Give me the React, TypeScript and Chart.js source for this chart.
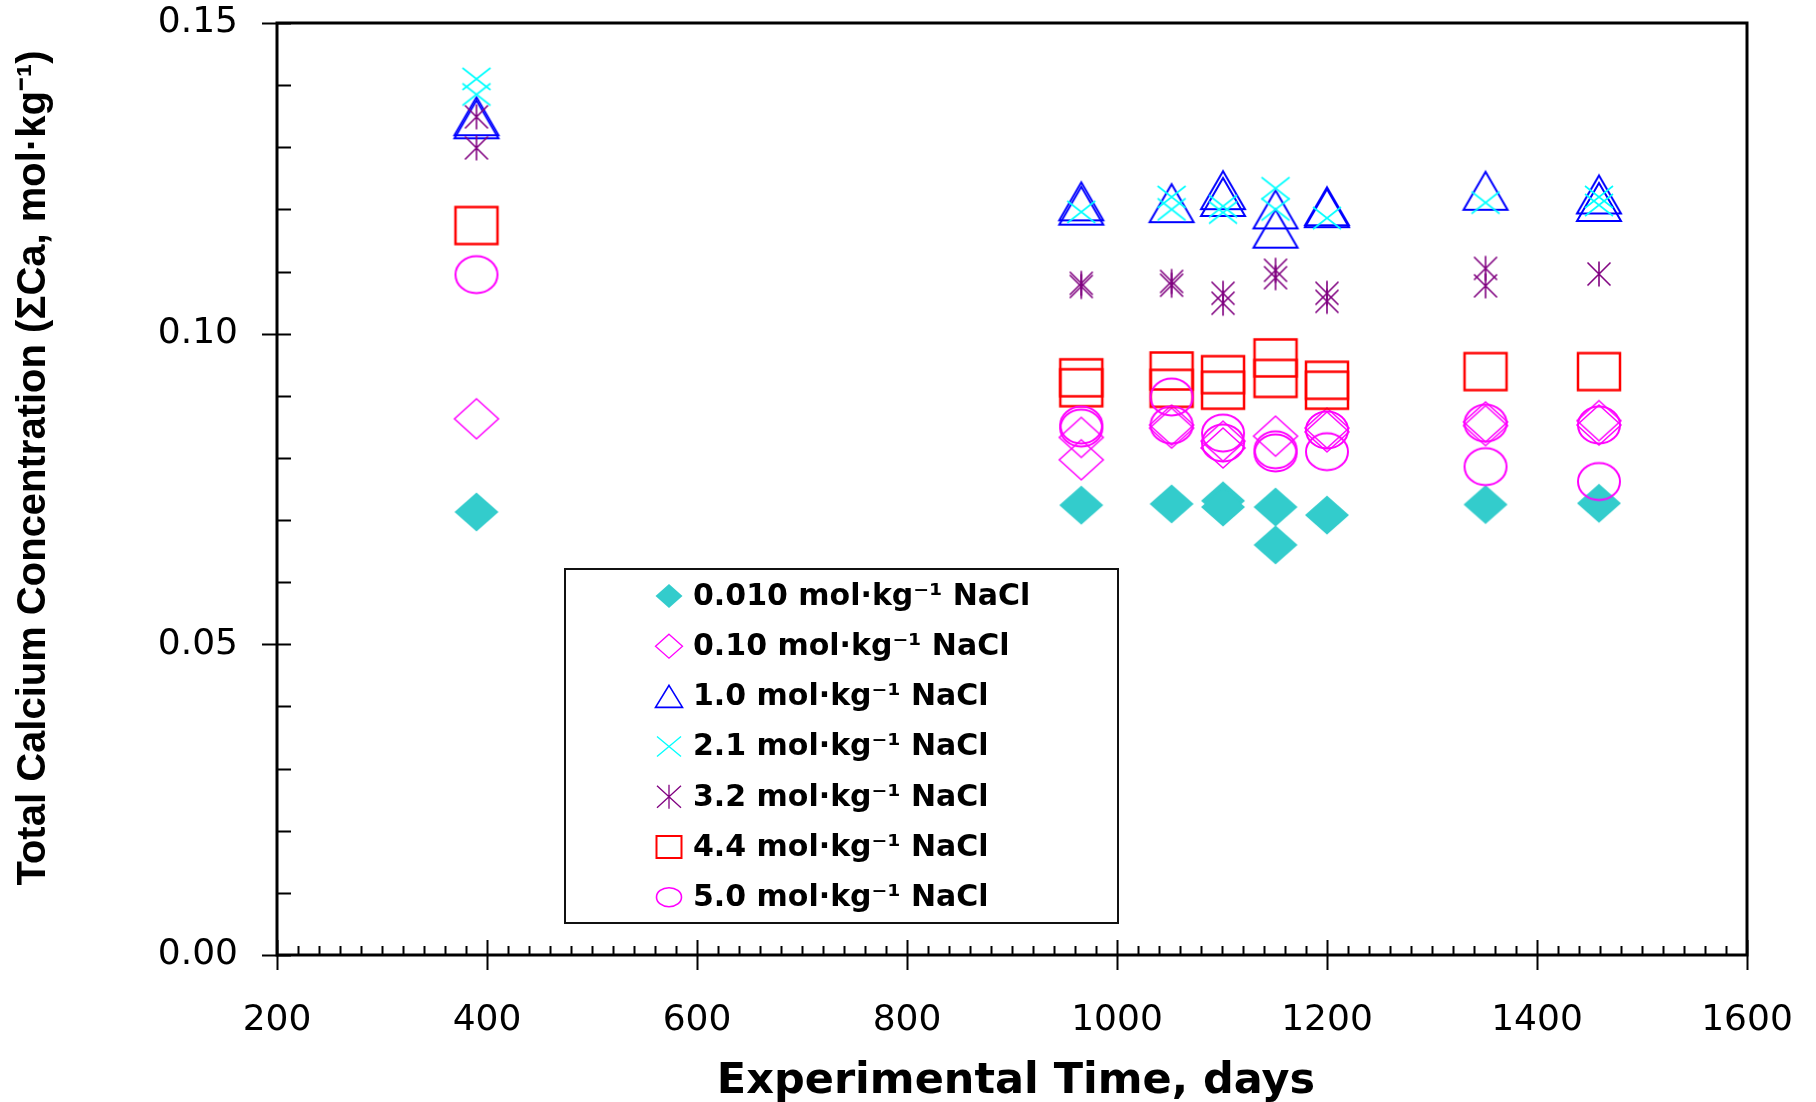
import React, { useEffect, useRef } from 'react';
import { Chart, registerables } from 'chart.js';

Chart.register(...registerables);

// ---------- data ----------
const seriesLabels = [
  '0.010 mol·kg⁻¹ NaCl',
  '0.10 mol·kg⁻¹ NaCl',
  '1.0 mol·kg⁻¹ NaCl',
  '2.1 mol·kg⁻¹ NaCl',
  '3.2 mol·kg⁻¹ NaCl',
  '4.4 mol·kg⁻¹ NaCl',
  '5.0 mol·kg⁻¹ NaCl',
];

const days0010 = [390, 966, 1052, 1101, 1101, 1151, 1151, 1200, 1351, 1459];
const ca0010 = [0.0713, 0.0724, 0.0726, 0.0731, 0.0721, 0.0721, 0.066, 0.0708, 0.0725, 0.0727];

const days010 = [390, 966, 966, 1052, 1052, 1101, 1101, 1151, 1200, 1200, 1351, 1351, 1459, 1459];
const ca010 = [0.0863, 0.0833, 0.0797, 0.0853, 0.0848, 0.0827, 0.0816, 0.0835, 0.0848, 0.0842, 0.0858, 0.0852, 0.086, 0.0853];

const days10 = [390, 390, 966, 966, 1052, 1101, 1101, 1151, 1151, 1200, 1200, 1351, 1459, 1459];
const ca10 = [0.135, 0.1345, 0.1213, 0.1206, 0.121, 0.1231, 0.122, 0.12, 0.1169, 0.1205, 0.1202, 0.123, 0.1224, 0.1212];

const days21 = [390, 390, 966, 1052, 1052, 1101, 1101, 1151, 1151, 1200, 1351, 1459, 1459];
const ca21 = [0.141, 0.1385, 0.1196, 0.122, 0.12, 0.1205, 0.1195, 0.1234, 0.12, 0.1186, 0.1211, 0.122, 0.1207];

const days32 = [390, 390, 966, 966, 1052, 1052, 1101, 1101, 1151, 1151, 1200, 1200, 1351, 1351, 1459];
const ca32 = [0.1349, 0.1299, 0.1081, 0.1076, 0.1084, 0.1078, 0.1065, 0.1049, 0.1102, 0.109, 0.1065, 0.1052, 0.1105, 0.1077, 0.1096];

const days44 = [390, 966, 966, 1052, 1052, 1101, 1101, 1151, 1151, 1200, 1200, 1351, 1459];
const ca44 = [0.1174, 0.0929, 0.0913, 0.094, 0.0912, 0.0934, 0.0909, 0.0961, 0.0928, 0.0925, 0.0909, 0.0939, 0.0939];

const days50 = [390, 966, 966, 1052, 1052, 1101, 1101, 1151, 1151, 1200, 1200, 1351, 1351, 1459, 1459];
const ca50 = [0.1095, 0.0853, 0.0848, 0.0898, 0.0853, 0.084, 0.0824, 0.0813, 0.0808, 0.0845, 0.081, 0.0856, 0.0786, 0.0853, 0.0762];

const seriesDays = [days0010, days010, days10, days21, days32, days44, days50];
const seriesValues = [ca0010, ca010, ca10, ca21, ca32, ca44, ca50];

const xMin = 200;
const xMax = 1600;
const xMajorStep = 200;
const xMinorStep = 20;
const yMin = 0;
const yMax = 0.15;
const yMajorStep = 0.05;
const yMinorStep = 0.01;

const xTitle = 'Experimental Time, days';
const yTitle = 'Total Calcium Concentration (ΣCa, mol·kg⁻¹)';

// ---------- styles ----------
type Kind = 'fdiamond' | 'odiamond' | 'triangle' | 'cross' | 'asterisk' | 'square' | 'circle';
interface MarkerSpec { kind: Kind; color: string; hw: number; hh: number; lw: number; lhw: number; lhh: number; llw: number }

const markerSpecs: MarkerSpec[] = [
  { kind: 'fdiamond', color: '#33CCCC', hw: 22, hh: 19.5, lw: 0, lhw: 13.5, lhh: 12, llw: 0 },
  { kind: 'odiamond', color: '#FF00FF', hw: 22, hh: 20, lw: 1.5, lhw: 13.5, lhh: 12, llw: 1.3 },
  { kind: 'triangle', color: '#0000FF', hw: 22, hh: 19, lw: 2, lhw: 13.5, lhh: 11, llw: 1.6 },
  { kind: 'cross', color: '#00FFFF', hw: 14, hh: 11, lw: 1.6, lhw: 12, lhh: 10, llw: 1.3 },
  { kind: 'asterisk', color: '#800080', hw: 11.5, hh: 11.5, lw: 1.6, lhw: 12, lhh: 11, llw: 1.3 },
  { kind: 'square', color: '#FF0000', hw: 21, hh: 18.5, lw: 2.5, lhw: 12.5, lhh: 11, llw: 2 },
  { kind: 'circle', color: '#FF00FF', hw: 21, hh: 18.5, lw: 2, lhw: 12.5, lhh: 9.5, llw: 1.6 },
];

function drawMarker(ctx: CanvasRenderingContext2D, kind: Kind, cx: number, cy: number, hw: number, hh: number, color: string, lw: number) {
  ctx.save();
  ctx.strokeStyle = color;
  ctx.fillStyle = color;
  ctx.lineWidth = lw;
  ctx.lineJoin = 'miter';
  ctx.beginPath();
  switch (kind) {
    case 'fdiamond':
    case 'odiamond':
      ctx.moveTo(cx, cy - hh);
      ctx.lineTo(cx + hw, cy);
      ctx.lineTo(cx, cy + hh);
      ctx.lineTo(cx - hw, cy);
      ctx.closePath();
      if (kind === 'fdiamond') ctx.fill();
      else ctx.stroke();
      break;
    case 'triangle':
      ctx.moveTo(cx, cy - hh);
      ctx.lineTo(cx + hw, cy + hh);
      ctx.lineTo(cx - hw, cy + hh);
      ctx.closePath();
      ctx.stroke();
      break;
    case 'cross':
    case 'asterisk':
      ctx.moveTo(cx - hw, cy - hh);
      ctx.lineTo(cx + hw, cy + hh);
      ctx.moveTo(cx + hw, cy - hh);
      ctx.lineTo(cx - hw, cy + hh);
      if (kind === 'asterisk') {
        ctx.moveTo(cx, cy - hh - 1);
        ctx.lineTo(cx, cy + hh + 1);
      }
      ctx.stroke();
      break;
    case 'square':
      ctx.rect(cx - hw, cy - hh, 2 * hw, 2 * hh);
      ctx.stroke();
      break;
    case 'circle':
      ctx.ellipse(cx, cy, hw, hh, 0, 0, Math.PI * 2);
      ctx.stroke();
      break;
  }
  ctx.restore();
}

function makeMarkerCanvas(spec: MarkerSpec): HTMLCanvasElement {
  const c = document.createElement('canvas');
  const w = Math.ceil(2 * spec.hw + spec.lw + 4);
  const h = Math.ceil(2 * spec.hh + spec.lw + 4);
  c.width = w % 2 === 0 ? w : w + 1;
  c.height = h % 2 === 0 ? h : h + 1;
  const ctx = c.getContext('2d')!;
  drawMarker(ctx, spec.kind, c.width / 2, c.height / 2, spec.hw, spec.hh, spec.color, spec.lw);
  return c;
}

const tickFont = { family: '"DejaVu Sans", "Liberation Sans", sans-serif', size: 36 };

const framePlugin = {
  id: 'frameAndTicks',
  beforeDatasetsDraw(chart: any) {
    const ctx: CanvasRenderingContext2D = chart.ctx;
    const { left, right, top, bottom } = chart.chartArea;
    const xs = chart.scales.x;
    const ys = chart.scales.y;
    ctx.save();
    ctx.strokeStyle = '#000';
    ctx.lineWidth = 3;
    ctx.strokeRect(left, top, right - left, bottom - top);
    ctx.lineWidth = 2;
    ctx.beginPath();
    const nx = Math.round((xMax - xMin) / xMinorStep);
    for (let i = 0; i <= nx; i++) {
      const v = xMin + i * xMinorStep;
      const px = Math.round(xs.getPixelForValue(v)) + 0.5;
      const major = Math.abs((v - xMin) % xMajorStep) < 1e-6;
      ctx.moveTo(px, bottom + (major ? 15 : 0));
      ctx.lineTo(px, bottom - (major ? 15 : 9));
    }
    const ny = Math.round((yMax - yMin) / yMinorStep);
    const perMajor = Math.round(yMajorStep / yMinorStep);
    for (let i = 0; i <= ny; i++) {
      const v = yMin + i * yMinorStep;
      const py = Math.round(ys.getPixelForValue(v)) + 0.5;
      const major = i % perMajor === 0;
      ctx.moveTo(left - (major ? 15 : 0), py);
      ctx.lineTo(left + 14, py);
    }
    ctx.stroke();
    ctx.restore();
  },
  afterDraw(chart: any) {
    const ctx: CanvasRenderingContext2D = chart.ctx;
    ctx.save();
    // axis titles
    ctx.fillStyle = '#000';
    ctx.font = 'bold 43px "DejaVu Sans", sans-serif';
    ctx.textAlign = 'center';
    ctx.textBaseline = 'alphabetic';
    ctx.fillText(xTitle, 1016, 1093);

    ctx.save();
    ctx.translate(45, 468);
    ctx.rotate(-Math.PI / 2);
    ctx.font = 'bold 40px "Liberation Sans", Arial, sans-serif';
    ctx.textAlign = 'center';
    ctx.textBaseline = 'alphabetic';
    ctx.fillText(yTitle, 0, 0);
    ctx.restore();

    // legend box
    const bx = 565, by = 569, bw = 553, bh = 354;
    ctx.fillStyle = '#fff';
    ctx.fillRect(bx, by, bw, bh);
    ctx.strokeStyle = '#111';
    ctx.lineWidth = 2;
    ctx.strokeRect(bx, by, bw, bh);
    ctx.font = 'bold 30px "DejaVu Sans", sans-serif';
    ctx.textAlign = 'left';
    ctx.textBaseline = 'middle';
    seriesLabels.forEach((label, i) => {
      const cy = 596 + i * 50.2;
      const s = markerSpecs[i];
      drawMarker(ctx, s.kind, 669, cy, s.lhw, s.lhh, s.color, s.llw);
      ctx.fillStyle = '#000';
      ctx.fillText(label, 693, cy + 1);
    });
    ctx.restore();
  },
};

export default function App() {
  const canvasRef = useRef<HTMLCanvasElement | null>(null);

  useEffect(() => {
    if (!canvasRef.current) return;
    const images = markerSpecs.map(makeMarkerCanvas);
    const datasets = seriesLabels.map((label, i) => ({
      label,
      data: seriesDays[i].map((d, j) => ({ x: d, y: seriesValues[i][j] })),
      pointStyle: images[i] as any,
      pointRadius: 12,
      pointHoverRadius: 12,
      showLine: false,
      order: seriesLabels.length - i,
      clip: false as any,
    }));

    const chart = new Chart(canvasRef.current, {
      type: 'scatter',
      data: { datasets },
      plugins: [framePlugin],
      options: {
        animation: false,
        responsive: true,
        maintainAspectRatio: false,
        layout: { padding: { left: 0, top: 23, right: 69, bottom: 0 } },
        plugins: {
          legend: { display: false },
          tooltip: { enabled: false },
          title: { display: false },
        },
        scales: {
          x: {
            type: 'linear',
            min: xMin,
            max: xMax,
            border: { display: false },
            grid: { display: false, drawTicks: true, tickLength: 44 },
            ticks: {
              stepSize: xMajorStep,
              color: '#000',
              font: tickFont,
              padding: 0,
              maxRotation: 0,
              autoSkip: false,
              callback: (v: any) => String(v),
            },
            afterFit: (scale: any) => {
              scale.height = 147;
            },
          },
          y: {
            type: 'linear',
            min: yMin,
            max: yMax,
            border: { display: false },
            grid: { display: false, drawTicks: true, tickLength: 39 },
            ticks: {
              stepSize: yMajorStep,
              color: '#000',
              font: tickFont,
              padding: 0,
              callback: (v: any) => Number(v).toFixed(2),
            },
            afterFit: (scale: any) => {
              scale.width = 277;
            },
          },
        },
      },
    });
    return () => chart.destroy();
  }, []);

  return (
    <div style={{ position: 'fixed', left: 0, top: 0, width: 1816, height: 1102, background: '#fff' }}>
      <canvas ref={canvasRef} style={{ display: 'block' }} />
    </div>
  );
}
